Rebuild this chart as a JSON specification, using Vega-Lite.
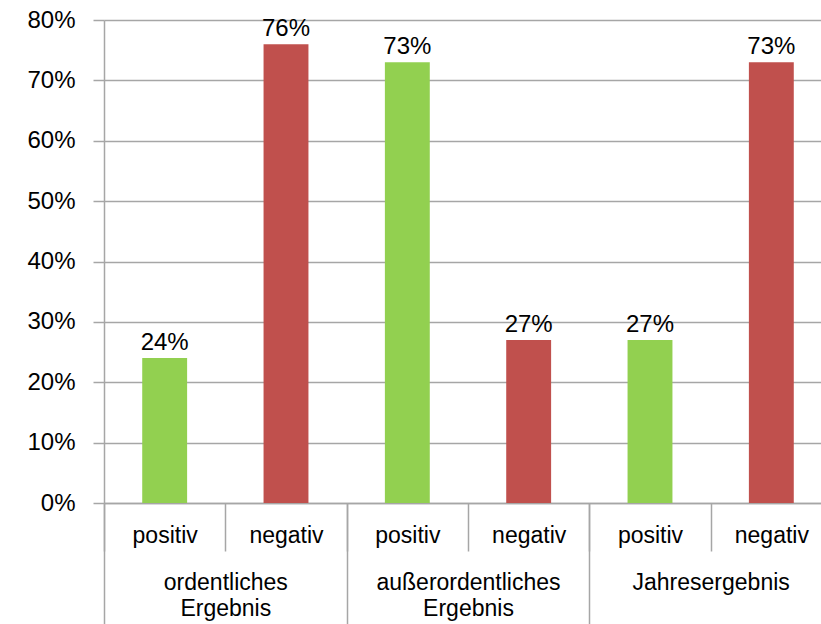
{
  "$schema": "https://vega.github.io/schema/vega-lite/v6.json",
  "autosize": "none",
  "padding": {"left": 104, "top": 20, "right": 0, "bottom": 121},
  "width": 728,
  "height": 483,
  "background": "white",
  "config": {
    "view": {"stroke": null},
    "font": "Liberation Sans",
    "axis": {"domainColor": "#A6A6A6", "tickColor": "#A6A6A6", "gridColor": "#A6A6A6", "domainWidth": 1.5, "tickWidth": 1.5, "gridWidth": 1.5, "labelColor": "#000000", "labelFont": "Liberation Sans"}
  },
  "data": {
    "values": [
      {"id": "1-positiv", "group": "ordentliches|Ergebnis", "sub": "positiv", "value": 0.24},
      {"id": "2-negativ", "group": "ordentliches|Ergebnis", "sub": "negativ", "value": 0.76},
      {"id": "3-positiv", "group": "außerordentliches|Ergebnis", "sub": "positiv", "value": 0.73},
      {"id": "4-negativ", "group": "außerordentliches|Ergebnis", "sub": "negativ", "value": 0.27},
      {"id": "5-positiv", "group": "Jahresergebnis", "sub": "positiv", "value": 0.27},
      {"id": "6-negativ", "group": "Jahresergebnis", "sub": "negativ", "value": 0.73}
    ]
  },
  "layer": [
    {
      "layer": [
        {
          "mark": {"type": "bar", "width": {"band": 0.37}},
          "encoding": {
            "x": {"field": "id", "type": "nominal", "sort": null,
              "scale": {"paddingInner": 0, "paddingOuter": 0},
              "axis": {"title": null, "grid": false, "tickBand": "extent", "tickSize": 48, "labelPadding": -27, "labelAngle": 0, "labelFontSize": 23, "labelBaseline": "top", "labelLimit": 0, "labelExpr": "datum.value ? split(datum.value, '-')[1] : ''", "domain": true, "labelOverlap": false}
            },
            "y": {"field": "value", "type": "quantitative",
              "scale": {"domain": [0, 0.8]},
              "axis": {"title": null, "format": ".0%", "values": [0, 0.1, 0.2, 0.3, 0.4, 0.5, 0.6, 0.7, 0.8], "tickSize": 11, "labelPadding": 18, "labelFontSize": 24, "grid": true, "labelOverlap": false}
            },
            "color": {"field": "sub", "type": "nominal", "scale": {"domain": ["positiv", "negativ"], "range": ["#92D050", "#C0504D"]}, "legend": null}
          }
        },
        {
          "mark": {"type": "text", "baseline": "alphabetic", "dy": -8, "fontSize": 24, "font": "Liberation Sans", "color": "#000000"},
          "encoding": {
            "x": {"field": "id", "type": "nominal", "sort": null},
            "y": {"field": "value", "type": "quantitative"},
            "text": {"field": "value", "type": "quantitative", "format": ".0%"}
          }
        }
      ]
    },
    {
      "mark": {"type": "point", "opacity": 0},
      "encoding": {
        "x": {"field": "group", "type": "nominal", "sort": null,
          "scale": {"paddingInner": 0, "paddingOuter": 0},
          "axis": {"orient": "bottom", "title": null, "grid": false, "domain": false, "tickBand": "extent", "tickSize": 125, "labelPadding": -57, "labelAngle": 0, "labelFontSize": 23, "labelLineHeight": 26, "labelBaseline": "top", "labelLimit": 0, "labelExpr": "datum.value ? split(datum.value, '|') : ''", "labelOverlap": false}
        },
        "y": {"field": "value", "type": "quantitative"}
      }
    }
  ],
  "resolve": {"scale": {"x": "independent"}, "axis": {"x": "independent"}}
}
